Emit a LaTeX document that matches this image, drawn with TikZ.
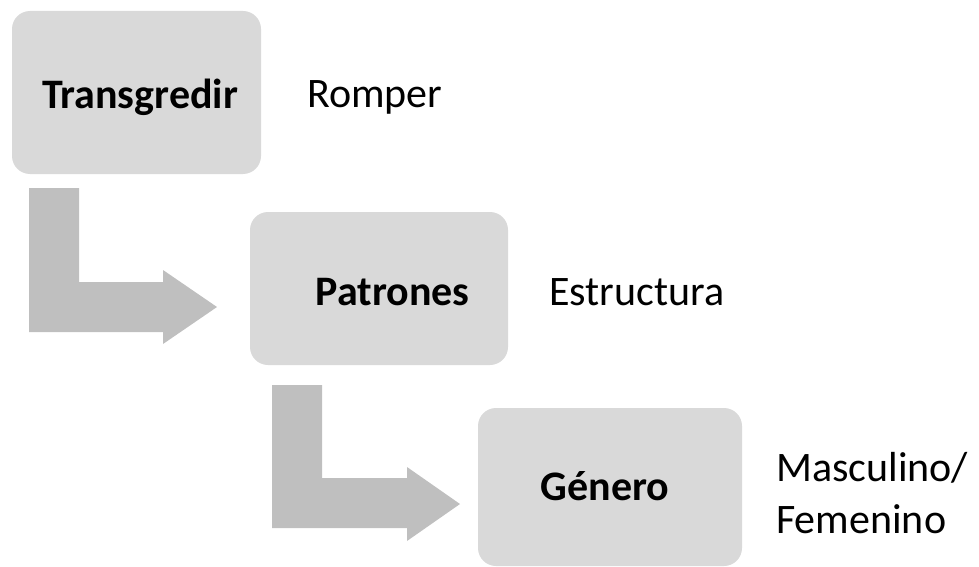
\documentclass[tikz,border=0pt]{standalone}
\usepackage{fontspec}
\setmainfont{Carlito}
\begin{document}
\begin{tikzpicture}[x=1pt,y=-1pt,
  box/.style={rectangle, rounded corners=18pt, fill=boxgray, draw=none, inner sep=0pt},
  btxt/.style={anchor=base, inner sep=0pt, font=\fontsize{42}{50}\selectfont\bfseries},
  lbl/.style={anchor=base west, inner sep=0pt, font=\fontsize{42}{52}\selectfont, align=left},
  larrow/.style={fill=arrgray, draw=none}]
\definecolor{boxgray}{HTML}{D9D9D9}
\definecolor{arrgray}{HTML}{BFBFBF}
\useasboundingbox (0,0) rectangle (979,567);
% boxes
\node[box, minimum width=249pt, minimum height=163pt] (b1) at (136.5,92.5) {};
\node[box, minimum width=258pt, minimum height=153pt] (b2) at (379,288.5) {};
\node[box, minimum width=264pt, minimum height=158pt] (b3) at (610,487) {};
\node[btxt] (t1) at (140,109) {Transgredir};
\node[btxt] (t2) at (392.5,305) {Patrones};
\node[btxt] (t3) at (605,500) {Género};
% labels
\node[lbl] (l1) at (307,108) {Romper};
\node[lbl] (l2) at (549,305) {Estructura};
\node[lbl] (l3) at (776,533) {Masculino/\\Femenino};
% L-shaped arrows
\fill[larrow] (29,188) -- (79,188) -- (79,282) -- (163,282) -- (163,270) -- (217,307)
  -- (163,344) -- (163,332) -- (29,332) -- cycle;
\fill[larrow] (272,385) -- (322,385) -- (322,478) -- (407,478) -- (407,467) -- (460,504)
  -- (407,541) -- (407,528) -- (272,528) -- cycle;
\end{tikzpicture}
\end{document}
